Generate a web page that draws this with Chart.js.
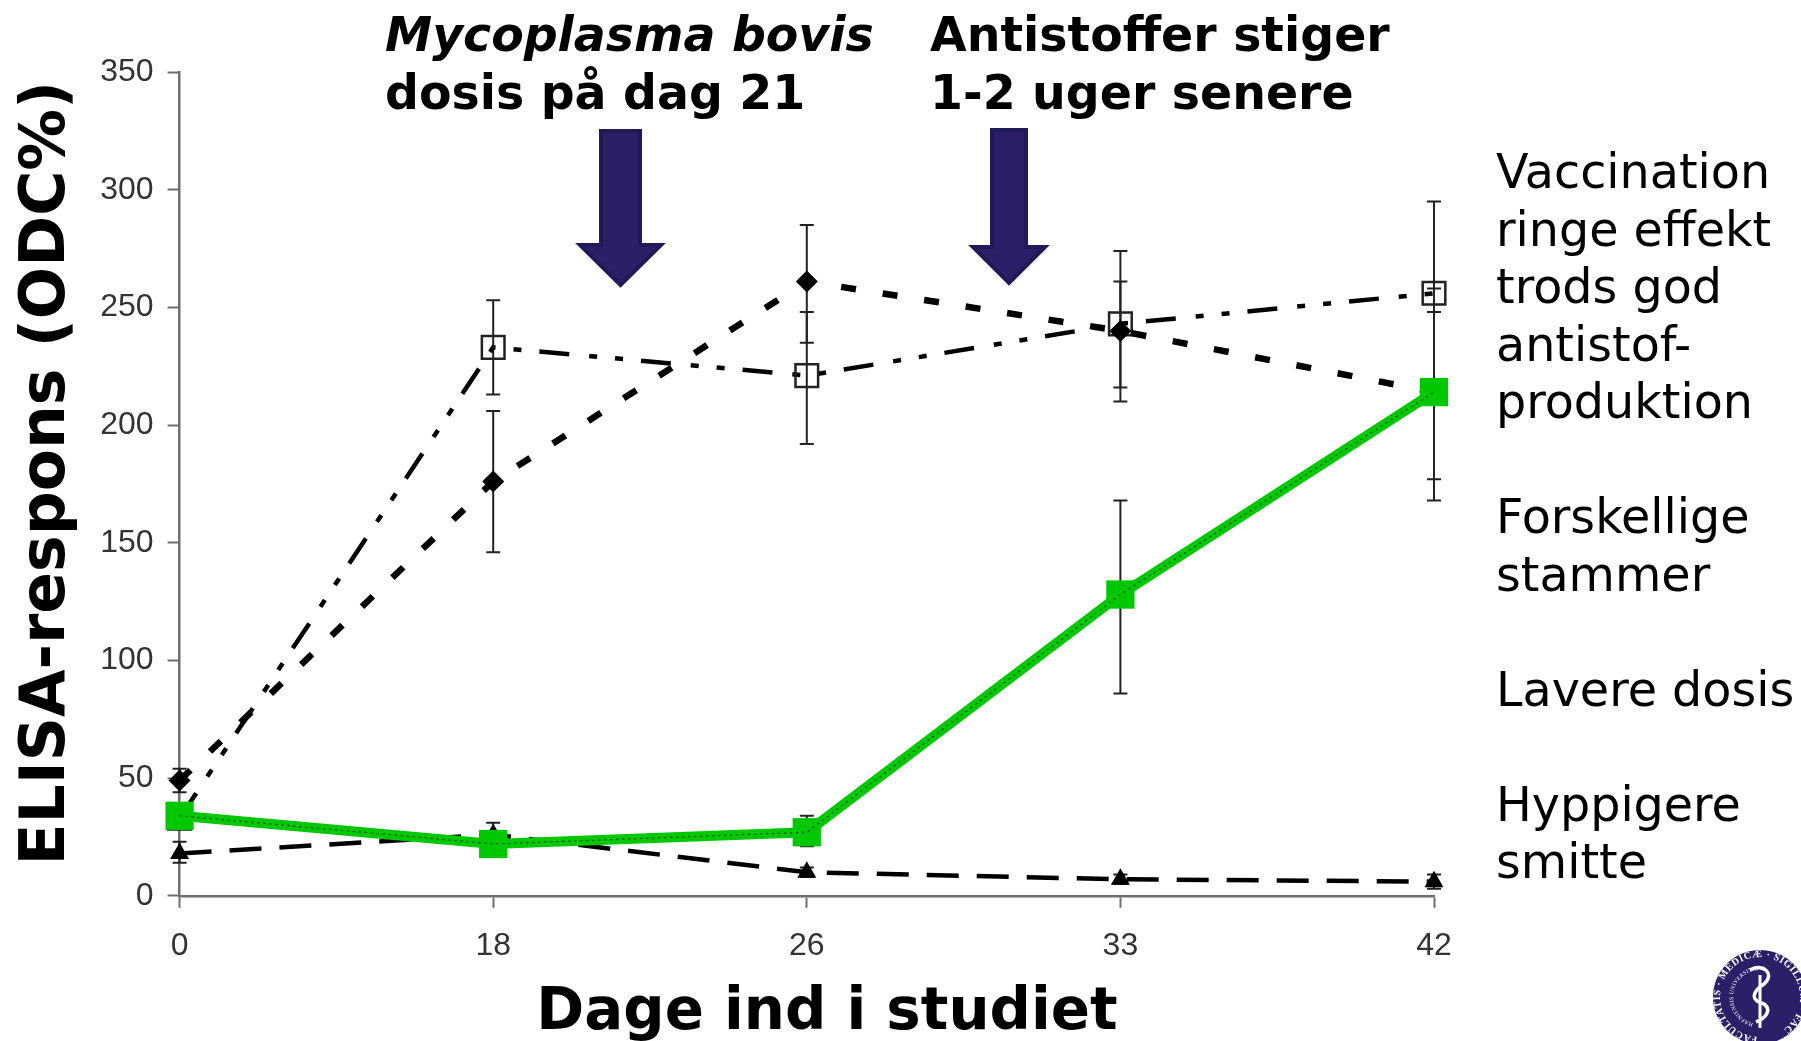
<!DOCTYPE html>
<html lang="da">
<head>
<meta charset="utf-8">
<title>ELISA-respons</title>
<script src="https://cdn.jsdelivr.net/npm/chart.js@4/dist/chart.umd.min.js"></script>
<style>
  html, body { margin:0; padding:0; background:#fff; }
  #wrap { position:relative; width:1801px; height:1041px; overflow:hidden; }
  #chart { position:absolute; left:0; top:0; }
  .note { position:absolute; font-family:"DejaVu Sans",sans-serif; color:#000; white-space:pre; }
  .head { font-weight:bold; font-size:47.4px; line-height:58px; top:6px; }
  .side { left:1496px; top:143px; font-size:47.6px; line-height:57.5px; }
  svg { position:absolute; left:0; top:0; pointer-events:none; }
</style>
</head>
<body>
<div id="wrap">
  <canvas id="chart" width="1801" height="1041"></canvas>

  <div class="note head" style="left:385px"><i>Mycoplasma bovis</i>
dosis på dag 21</div>
  <div class="note head" style="left:930px">Antistoffer stiger
1-2 uger senere</div>
  <div class="note side">Vaccination
ringe effekt
trods god
antistof-
produktion

Forskellige
stammer

Lavere dosis

Hyppigere
smitte</div>

  <svg width="1801" height="1041">
    <polygon points="601,131 640,131 640,245 661,245 620.5,285 580,245 601,245" fill="#2b2068" stroke="#201a58" stroke-width="4"/>
    <polygon points="992,130 1026,130 1026,247 1045,247 1009,283 973,247 992,247" fill="#2b2068" stroke="#201a58" stroke-width="4"/>

    <!-- seal, lower right -->
    <defs>
      <path id="sealRing" d="M1760,1037 a40,40 0 1,1 0.1,0"/>
      <path id="sealInner" d="M1760,1024 a27,27 0 1,1 0.1,0"/>
    </defs>
    <circle cx="1760" cy="997" r="47" fill="#2b2068"/>
    <text font-family="'Liberation Serif',serif" font-size="10" font-weight="bold" fill="#fff" letter-spacing="0.6">
      <textPath href="#sealRing" startOffset="1%">FACULTATIS · MEDICÆ · SIGILLUM · FAC</textPath>
    </text>
    <text font-family="'Liberation Serif',serif" font-size="5.5" fill="#fff" letter-spacing="0.4">
      <textPath href="#sealInner" startOffset="4%">HAFNIENSIS UNIVERSITATIS</textPath>
    </text>
    <path d="M1760,975 L1760,1028" stroke="#fff" stroke-width="3"/>
    <path d="M1750,970 C1762,962 1776,974 1764,984 C1752,992 1750,1000 1764,1004 C1772,1010 1766,1018 1756,1022" fill="none" stroke="#fff" stroke-width="3.5"/>
  </svg>
</div>

<script>
/* ---- data ---- */
const DAYS = ['0', '18', '26', '33', '42'];
const Y_TICKS = [0, 50, 100, 150, 200, 250, 300, 350];

const OPEN_VALUES = [33, 233, 221, 243, 256];
const OPEN_LOW    = [30, 213, 192, 210, 217];
const OPEN_HIGH   = [36, 253, 248, 274, 295];

const DIAMOND_VALUES = [49, 176, 261, 240, 214];
const DIAMOND_LOW    = [44, 146, 235, 216, 168];
const DIAMOND_HIGH   = [54, 206, 285, 261, 258];

const TRIANGLE_VALUES = [18, 26, 10, 7, 6];
const TRIANGLE_LOW    = [14, 21, 8, 5, 3];
const TRIANGLE_HIGH   = [23, 31, 12, 9, 9];

const GREEN_VALUES = [34, 22, 27, 128, 214];
const GREEN_LOW    = [30, 19, 21, 86, 177];
const GREEN_HIGH   = [38, 25, 34, 168, 248];

const ERROR_SETS = [
  [OPEN_LOW, OPEN_HIGH],
  [DIAMOND_LOW, DIAMOND_HIGH],
  [TRIANGLE_LOW, TRIANGLE_HIGH],
  [GREEN_LOW, GREEN_HIGH],
];

const AXIS_GREY = '#6e6e6e';

/* error bars go under the lines and markers */
const errorBars = {
  id: 'errorBars',
  beforeDatasetsDraw(chart) {
    const { ctx, scales: { x, y } } = chart;
    ctx.save();
    ctx.strokeStyle = '#222';
    ctx.lineWidth = 2;
    ERROR_SETS.forEach(([low, high]) => {
      DAYS.forEach((d, i) => {
        const px = x.getPixelForValue(i);
        const top = y.getPixelForValue(high[i]);
        const bot = y.getPixelForValue(low[i]);
        ctx.beginPath();
        ctx.moveTo(px, top); ctx.lineTo(px, bot);
        ctx.moveTo(px - 7, top); ctx.lineTo(px + 7, top);
        ctx.moveTo(px - 7, bot); ctx.lineTo(px + 7, bot);
        ctx.stroke();
      });
    });
    ctx.restore();
  }
};

new Chart(document.getElementById('chart'), {
  type: 'line',
  data: {
    labels: DAYS,
    datasets: [
      { // fine dotted trace showing through the green line
        data: GREEN_VALUES, borderColor: '#0a3a0a', borderWidth: 1.2, borderDash: [2, 4],
        pointRadius: 0, order: 0, clip: false,
      },
      {
        data: GREEN_VALUES, borderColor: '#00c800', backgroundColor: '#00c800', borderWidth: 10,
        pointStyle: 'rect', pointRadius: 20, pointBorderWidth: 0, order: 1, clip: false,
      },
      {
        data: TRIANGLE_VALUES, borderColor: '#000', backgroundColor: '#000', borderWidth: 4.5,
        borderDash: [32, 18], pointStyle: 'triangle', pointRadius: 11, pointBorderWidth: 0, order: 2, clip: false,
      },
      {
        data: DIAMOND_VALUES, borderColor: '#000', backgroundColor: '#000', borderWidth: 6.5,
        borderDash: [15, 27], pointStyle: 'rectRot', pointRadius: 11, pointBorderWidth: 0, order: 3, clip: false,
      },
      {
        data: OPEN_VALUES, borderColor: '#000', backgroundColor: 'rgba(0,0,0,0)', borderWidth: 4.5,
        borderDash: [30, 20, 8, 18, 8, 18], pointStyle: 'rect', pointRadius: 16,
        pointBorderColor: '#222', pointBorderWidth: 2.5, order: 4, clip: false,
      },
    ]
  },
  options: {
    responsive: false,
    animation: false,
    layout: { padding: { left: 11, right: 367, top: 72, bottom: 0 } },
    plugins: { legend: { display: false }, tooltip: { enabled: false } },
    scales: {
      x: {
        type: 'category',
        offset: false,
        grid: { drawOnChartArea: false, drawTicks: true, tickLength: 12, tickWidth: 2, tickColor: AXIS_GREY },
        border: { display: true, color: AXIS_GREY, width: 2.5 },
        ticks: { color: '#333', padding: 19.5, maxRotation: 0, autoSkip: false,
                  font: { family: '"Liberation Sans"', size: 32 } },
        // leading spaces: the title sits a little right of the axis centre in the original
        title: { display: true, text: '  Dage ind i studiet', color: '#000',
                 padding: { top: 0, bottom: -2 },
                 font: { family: '"DejaVu Sans"', weight: 'bold', size: 57.8, lineHeight: 1 } },
      },
      y: {
        min: 0, max: 350,
        afterBuildTicks(axis) { axis.ticks = Y_TICKS.map(v => ({ value: v })); },
        grid: { drawOnChartArea: false, drawTicks: true, tickLength: 12, tickWidth: 2, tickColor: AXIS_GREY },
        border: { display: true, color: AXIS_GREY, width: 2.5 },
        ticks: { color: '#333', padding: 14, font: { family: '"Liberation Sans"', size: 32 } },
        title: { display: true, text: ' ELISA-respons (ODC%)', color: '#000',
                 padding: { top: 0, bottom: 1.4 },
                 font: { family: '"DejaVu Sans"', weight: 'bold', size: 61.5 } },
      }
    }
  },
  plugins: [errorBars]
});
</script>
</body>
</html>
